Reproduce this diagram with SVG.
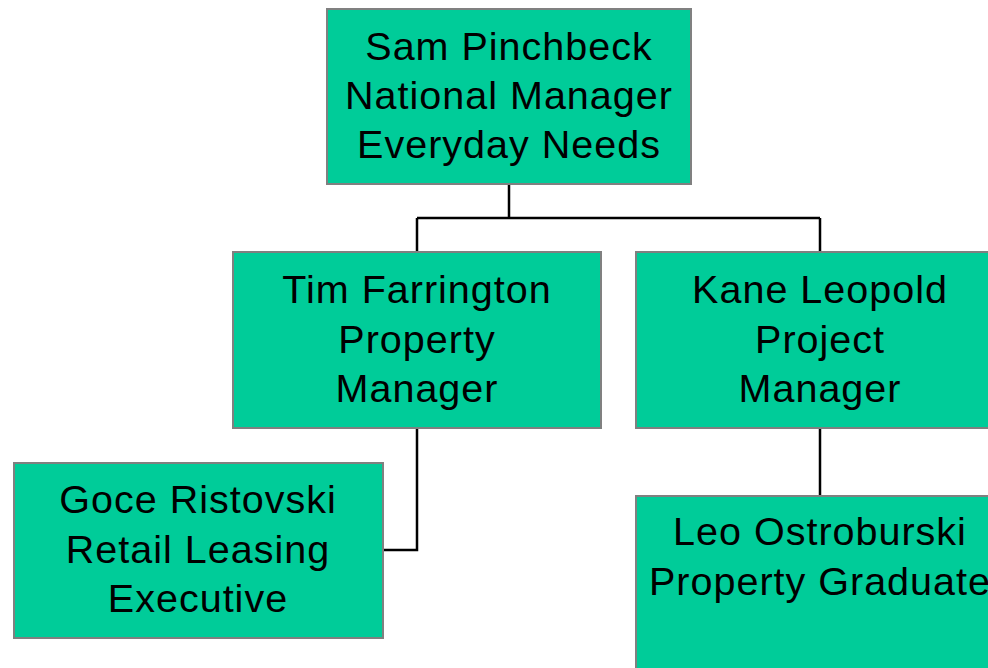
<svg xmlns="http://www.w3.org/2000/svg" width="988" height="668" viewBox="0 0 988 668">
<style>
.box{fill:#00CC99;stroke:#808080;stroke-width:2}
.t{font-family:"Liberation Sans",Arial,sans-serif;font-size:39.5px;fill:#000;text-anchor:middle;letter-spacing:1px}
.c{fill:none;stroke:#000;stroke-width:2.5}
</style>
<rect width="988" height="668" fill="#fff"/>
<g id="connectors">
<path class="c" d="M509 184V218M417 218H820M417 218V252M820 218V252"/>
<path class="c" d="M417 428V550H383"/>
<path class="c" d="M820 428V496"/>
</g>
<g id="sam">
<rect class="box" x="327" y="9" width="364" height="175"/>
<text class="t" x="509" y="60">Sam Pinchbeck</text>
<text class="t" x="509" y="109">National Manager</text>
<text class="t" x="509" y="158">Everyday Needs</text>
</g>
<g id="tim">
<rect class="box" x="233" y="252" width="368" height="176"/>
<text class="t" x="417" y="303">Tim Farrington</text>
<text class="t" x="417" y="353">Property</text>
<text class="t" x="417" y="402">Manager</text>
</g>
<g id="kane">
<rect class="box" x="636" y="252" width="368" height="176"/>
<text class="t" x="820" y="303">Kane Leopold</text>
<text class="t" x="820" y="353">Project</text>
<text class="t" x="820" y="402">Manager</text>
</g>
<g id="goce">
<rect class="box" x="14" y="463" width="369" height="175"/>
<text class="t" x="198" y="513">Goce Ristovski</text>
<text class="t" x="198" y="563">Retail Leasing</text>
<text class="t" x="198" y="612">Executive</text>
</g>
<g id="leo">
<rect class="box" x="636" y="496" width="368" height="176"/>
<text class="t" x="820" y="545">Leo Ostroburski</text>
<text class="t" x="820" y="595">Property Graduate</text>
</g>
</svg>
